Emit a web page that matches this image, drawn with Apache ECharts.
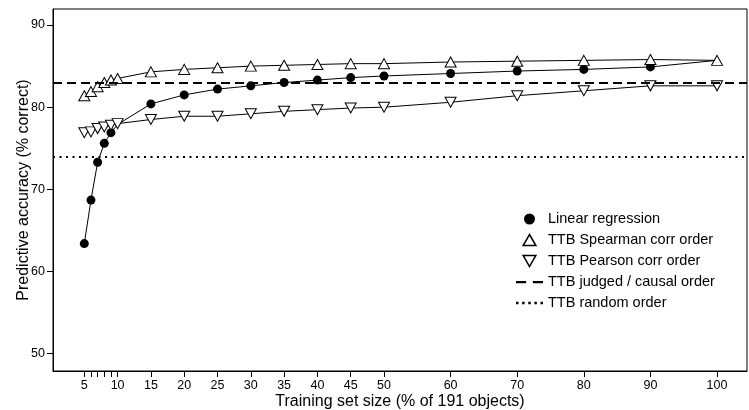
<!DOCTYPE html>
<html>
<head>
<meta charset="utf-8">
<script src="https://cdn.jsdelivr.net/npm/echarts@6/dist/echarts.min.js"></script>
<style>
  html, body { margin: 0; padding: 0; background: #fff; }
  #main { width: 749px; height: 410px; }
</style>
</head>
<body>
<div id="main"></div>
<script>
// training set size (% of 191 objects)
const sizes = [5, 6, 7, 8, 9, 10, 15, 20, 25, 30, 35, 40, 45, 50, 60, 70, 80, 90, 100]
const linearReg = [63.4, 68.7, 73.3, 75.6, 76.9, 77.9, 80.4, 81.5, 82.2, 82.6, 83.0, 83.3, 83.6, 83.8, 84.1, 84.4, 84.6, 84.9, 85.7]
const ttbSpearman = [81.4, 81.9, 82.5, 83.0, 83.3, 83.5, 84.3, 84.6, 84.8, 85.0, 85.1, 85.2, 85.3, 85.3, 85.5, 85.6, 85.7, 85.8, 85.7]
const ttbPearson = [76.9, 77.0, 77.4, 77.6, 77.8, 78.0, 78.5, 78.9, 78.9, 79.2, 79.5, 79.7, 79.9, 80.0, 80.6, 81.4, 82.0, 82.6, 82.6]
const ttbJudged = 83.0
const ttbRandom = 74.0
// sizes where the regression dot sits hidden under a triangle
const coveredLR = [10, 100]

const xTicks = [5, 6, 7, 8, 9, 10, 15, 20, 25, 30, 35, 40, 45, 50, 60, 70, 80, 90, 100]
const xLabels = [5, 10, 15, 20, 25, 30, 35, 40, 45, 50, 60, 70, 80, 90, 100]
const yTicks = [50, 60, 70, 80, 90]

const font = '"Liberation Sans", Arial, Helvetica, sans-serif'
const names = ['Linear regression', 'TTB Spearman corr order', 'TTB Pearson corr order',
               'TTB judged / causal order', 'TTB random order']

const pairs = (ys) => sizes.map((x, i) => [x, ys[i]])
const triUp = 'path://M5,0L10,8.66L0,8.66Z'
const triDown = 'path://M0,0L10,0L5,8.66Z'
// legend keys for the two reference lines
const dashKey = 'path://M0,0h9v2h-9zM15,0h9v2h-9z'
const dotKey = 'path://M0,0h2v2h-2zM5,0h2v2h-2zM10,0h2v2h-2zM15,0h2v2h-2zM20,0h2v2h-2z'

let myChart = echarts.init(document.getElementById('main'))

myChart.setOption({
  animation: false,
  textStyle: { fontFamily: font, color: '#000' },
  grid: {
    left: 53, right: 2, top: 9, bottom: 39,
    outerBoundsMode: 'none',
    show: true, borderColor: '#000', borderWidth: 1, backgroundColor: 'transparent'
  },
  legend: {
    orient: 'vertical',
    left: 511,
    top: 206,
    itemWidth: 27,
    itemHeight: 11,
    itemGap: 5,
    textStyle: { fontSize: 14.5, color: '#000', fontFamily: font, lineHeight: 16 },
    data: [
      { name: names[0], icon: 'circle', itemStyle: { color: '#000', borderWidth: 0 } },
      { name: names[1], icon: triUp, itemStyle: { color: '#fff', borderColor: '#000', borderWidth: 1.5 } },
      { name: names[2], icon: triDown, itemStyle: { color: '#fff', borderColor: '#000', borderWidth: 1.5 } },
      { name: names[3], icon: dashKey, itemStyle: { color: '#000', borderWidth: 0 } },
      { name: names[4], icon: dotKey, itemStyle: { color: '#000', borderWidth: 0 } }
    ]
  },
  xAxis: {
    type: 'value',
    min: 0.3,
    max: 104.5,
    name: 'Training set size (% of 191 objects)',
    nameLocation: 'middle',
    nameGap: 23,
    nameMoveOverlap: false,
    nameTextStyle: { fontSize: 16, color: '#000', fontFamily: font },
    axisLine: { show: true, onZero: false, lineStyle: { color: '#000', width: 1 } },
    axisTick: { show: true, length: 6, customValues: xTicks, lineStyle: { color: '#000' } },
    axisLabel: { customValues: xLabels, fontSize: 12.5, color: '#000', margin: 8, fontFamily: font },
    splitLine: { show: false }
  },
  yAxis: {
    type: 'value',
    min: 47.9,
    max: 91.95,
    name: 'Predictive accuracy (% correct)',
    nameLocation: 'middle',
    nameGap: 21,
    nameMoveOverlap: false,
    nameTextStyle: { fontSize: 16, color: '#000', fontFamily: font },
    axisLine: { show: true, onZero: false, lineStyle: { color: '#000', width: 1 } },
    axisTick: { show: true, length: 6, customValues: yTicks, lineStyle: { color: '#000' } },
    axisLabel: { customValues: yTicks, fontSize: 12.5, color: '#000', margin: 8, fontFamily: font },
    splitLine: { show: false }
  },
  series: [
    {
      name: names[0],
      type: 'line',
      data: pairs(linearReg),
      symbol: 'circle',
      symbolSize: (val) => (coveredLR.includes(val[0]) ? 0 : 9),
      showAllSymbol: true,
      lineStyle: { color: '#000', width: 1 },
      itemStyle: { color: '#000', borderWidth: 0 }
    },
    {
      name: names[1],
      type: 'line',
      data: pairs(ttbSpearman),
      symbol: triUp,
      symbolSize: [11, 10],
      showAllSymbol: true,
      lineStyle: { color: '#000', width: 1 },
      itemStyle: { color: '#fff', borderColor: '#000', borderWidth: 1 }
    },
    {
      name: names[2],
      type: 'line',
      data: pairs(ttbPearson),
      symbol: triDown,
      symbolSize: [11, 10],
      showAllSymbol: true,
      lineStyle: { color: '#000', width: 1 },
      itemStyle: { color: '#fff', borderColor: '#000', borderWidth: 1 }
    },
    {
      name: names[3],
      type: 'line',
      data: [],
      symbol: 'none',
      lineStyle: { color: '#000', width: 2, type: [9, 5] },
      markLine: {
        silent: true,
        symbol: 'none',
        label: { show: false },
        lineStyle: { color: '#000', width: 2, type: [9, 5] },
        data: [{ yAxis: ttbJudged }]
      }
    },
    {
      name: names[4],
      type: 'line',
      data: [],
      symbol: 'none',
      lineStyle: { color: '#000', width: 2, type: [2, 4.5] },
      markLine: {
        silent: true,
        symbol: 'none',
        label: { show: false },
        lineStyle: { color: '#000', width: 2, type: [2, 4.5] },
        data: [{ yAxis: ttbRandom }]
      }
    }
  ]
})
</script>
</body>
</html>
